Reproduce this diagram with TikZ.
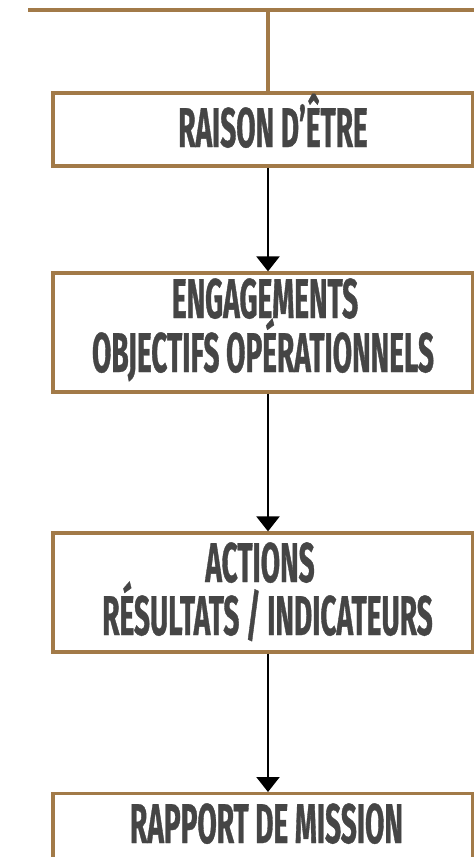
\documentclass[tikz,border=0pt]{standalone}
\usepackage{fontspec}
\usetikzlibrary{arrows.meta}
\newfontfamily\boxfont[FakeStretch=0.5,FakeBold=0.6]{Fira Sans Bold}
\definecolor{brownline}{HTML}{A27A48}
\definecolor{textgrey}{HTML}{454545}
\begin{document}
\begin{tikzpicture}[x=1pt,y=-1pt,
  boxstyle/.style={draw=brownline, line width=3.2pt, fill=white, inner sep=0pt,
    minimum width=420pt},
  label/.style={font=\boxfont\fontsize{56}{54}\selectfont, text=textgrey, anchor=base, inner sep=0pt},
  tie/.style={draw=brownline, line width=3.2pt},
  flow/.style={draw=black, line width=2.2pt, -{Triangle[width=23pt,length=15pt]}}]
\clip (0,0) rectangle (474,857);
\fill[white] (0,0) rectangle (474,857);
\coordinate (topl) at (28,10);
\coordinate (topr) at (480,10);
\coordinate (tick) at (268,10);
\node[boxstyle, minimum height=73pt] (b1) at (263,129.5) {};
\node[label] (t1) at (273,147) {RAISON D’ÊTRE};
\node[boxstyle, minimum height=119pt] (b2) at (263,332.5) {};
\node[label] (t2a) at (265,318) {ENGAGEMENTS};
\node[label] (t2b) at (263,372) {OBJECTIFS OPÉRATIONNELS};
\node[boxstyle, minimum height=119pt] (b3) at (263,592.5) {};
\node[label] (t3a) at (260,582) {ACTIONS};
\node[label] (t3b) at (267.5,635) {RÉSULTATS / INDICATEURS};
\node[boxstyle, minimum height=120pt, anchor=north] (b4) at (263,792) {};
\node[label] (t4) at (266.5,843) {RAPPORT DE MISSION};
\draw[tie] (topl) -- (topr);
\draw[tie] (tick) -- (tick |- b1.north);
\draw[flow] (tick |- b1.south) -- (tick |- b2.north);
\draw[flow] (tick |- b2.south) -- (tick |- b3.north);
\draw[flow] (tick |- b3.south) -- (tick |- b4.north);
\end{tikzpicture}
\end{document}
